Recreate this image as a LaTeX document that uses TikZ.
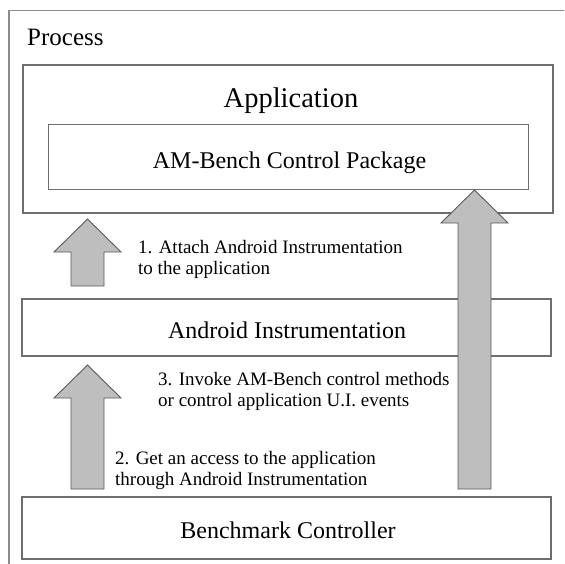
\documentclass[tikz,border=0pt]{standalone}
\usepackage{fontspec}
\setmainfont{Liberation Serif}
\usetikzlibrary{positioning}

\definecolor{framegray}{HTML}{8C8C8C}
\definecolor{boxgray}{HTML}{6E6E6E}
\definecolor{arrowfill}{HTML}{BEBEBE}
\definecolor{arrowline}{HTML}{5A5A5A}

\tikzset{
  layer/.style={draw=boxgray, line width=1.3pt, rectangle, inner sep=0pt},
  boxtext/.style={font=\fontsize{24}{28}\selectfont, inner sep=0pt, anchor=base},
  steptext/.style={font=\fontsize{19}{21.5}\selectfont, align=left, inner sep=0pt, anchor=north west},
  blockarrow/.style={draw=arrowline, fill=arrowfill, line width=0.9pt, line join=miter}
}

% up arrow: x, bottom, head base, tip, half head width, half shaft width
\newcommand{\upblock}[6]{%
  \draw[blockarrow] (#1-#6,#2) -- (#1-#6,#3) -- (#1-#5,#3) -- (#1,#4)
    -- (#1+#5,#3) -- (#1+#6,#3) -- (#1+#6,#2) -- cycle;}

\begin{document}
\begin{tikzpicture}[x=1pt, y=-1pt]
  \useasboundingbox (0,0) rectangle (564,564);

  % process frame
  \draw[draw=framegray, line width=1.2pt] (9,564) -- (9,10.5) -- (564,10.5);
  \node[font=\fontsize{25}{28}\selectfont, inner sep=0pt, anchor=base west] (process) at (27,46) {Process};

  % layers
  \node[layer, minimum width=530pt, minimum height=148pt] (app) at (288,139) {};
  \node[boxtext, font=\fontsize{28.5}{32}\selectfont] (apptitle) at (291,108) {Application};
  \node[layer, minimum width=480pt, minimum height=65pt] (pkg) at (288.5,157) {};
  \node[boxtext] (pkgtext) at (289.5,168) {AM-Bench Control Package};
  \node[layer, minimum width=529pt, minimum height=57pt] (instr) at (286.5,327.5) {};
  \node[boxtext] (instrtext) at (287,338) {Android Instrumentation};
  \node[layer, minimum width=529pt, minimum height=62pt] (ctrl) at (286.5,528) {};
  \node[boxtext] (ctrltext) at (288,538) {Benchmark Controller};

  % arrows
  \upblock{87.5}{286}{252}{219}{33.5}{16.5}
  \upblock{87.5}{489}{398}{365}{33.5}{16.5}
  \upblock{474.5}{489}{223}{190}{33.5}{16.5}

  % step labels
  \node[steptext] (step1) at (138,240) {1. Attach Android Instrumentation\\to the application};
  \node[steptext] (step3) at (158,372) {3. Invoke AM-Bench control methods\\or control application U.I. events};
  \node[steptext] (step2) at (115,451) {2. Get an access to the application\\through Android Instrumentation};
\end{tikzpicture}
\end{document}
